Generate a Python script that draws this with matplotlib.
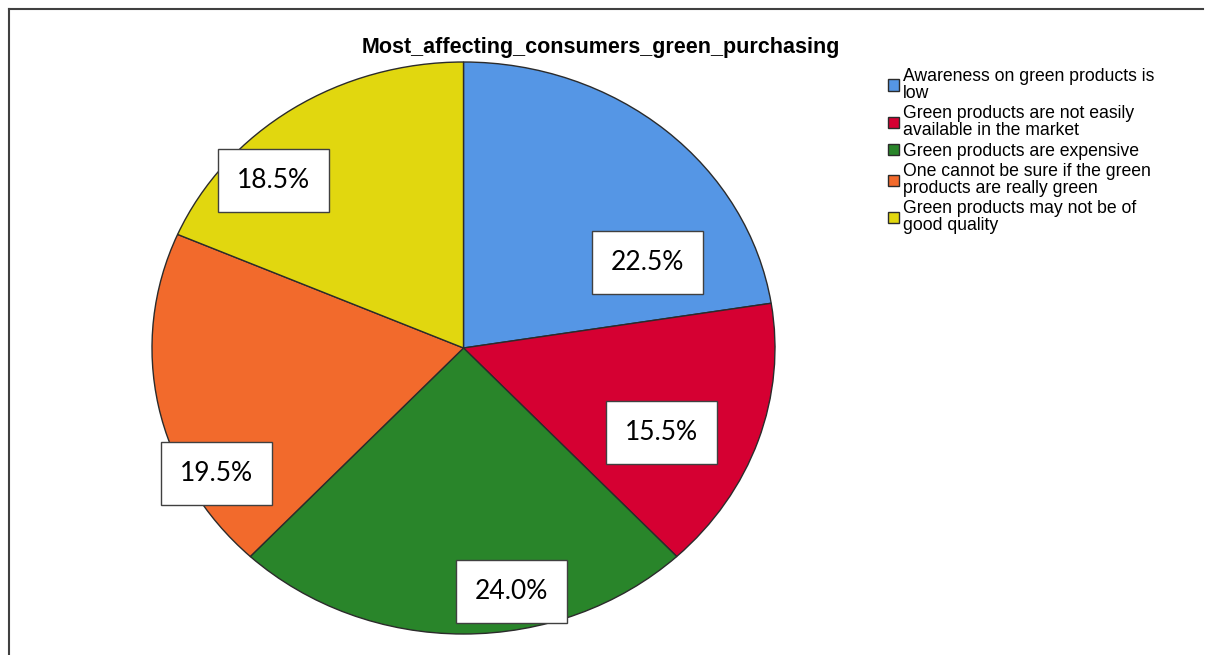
import matplotlib.pyplot as plt
from matplotlib.lines import Line2D

# shares of answers (percent)
reasons = ["Awareness on green products is\nlow",
           "Green products are not easily\navailable in the market",
           "Green products are expensive",
           "One cannot be sure if the green\nproducts are really green",
           "Green products may not be of\ngood quality"]
percent = [22.5, 15.5, 24.0, 19.5, 18.5]

colors = ["#5596e5", "#d50032", "#29852a", "#f26a2c", "#e1d70f"]
# where the value boxes sit (x, y inside the unit pie)
label_xy = [(0.59, 0.30), (0.637, -0.297), (0.154, -0.85),
            (-0.794, -0.44), (-0.61, 0.587)]

W, H = 1205, 655
fig = plt.figure(figsize=(W / 100, H / 100), dpi=100)

ax = fig.add_axes([152 / W, 21 / H, 623 / W, 572 / H])
wedges, _ = ax.pie(percent, colors=colors, startangle=90, counterclock=False,
                   radius=1,
                   wedgeprops=dict(edgecolor="#2b2b2b", linewidth=1.0))
ax.set_aspect("auto")
ax.set_xlim(-1, 1)
ax.set_ylim(-1, 1)
ax.axis("off")

for p, (x, y) in zip(percent, label_xy):
    ax.text(x, y, f"{p:.1f}%", ha="center", va="center", fontsize=19,
            family="Lato", color="black",
            bbox=dict(boxstyle="square,pad=0.72", fc="white", ec="#404040", lw=1.0))

fig.text(601 / W, 1 - 47 / H, "Most_affecting_consumers_green_purchasing",
         ha="center", va="center", fontsize=15.5, fontweight="bold",
         family="Liberation Sans")

leg = fig.legend(wedges, reasons, loc="upper left",
                 bbox_to_anchor=(888 / W, 1 - 68 / H), frameon=False,
                 prop=dict(family="Liberation Sans", size=12.7),
                 handlelength=0.62, handleheight=0.62, handletextpad=0.25,
                 labelspacing=0.2, borderpad=0, borderaxespad=0)
for t in leg.get_texts():
    t.set_linespacing(0.98)

# frame lines along the top and left edge
fig.add_artist(Line2D([9 / W, 1203 / W], [1 - 9 / H, 1 - 9 / H],
                      color="#404040", lw=1.5, transform=fig.transFigure))
fig.add_artist(Line2D([9 / W, 9 / W], [0, 1 - 9 / H],
                      color="#404040", lw=1.5, transform=fig.transFigure))

fig.savefig("out.png", dpi=100)
